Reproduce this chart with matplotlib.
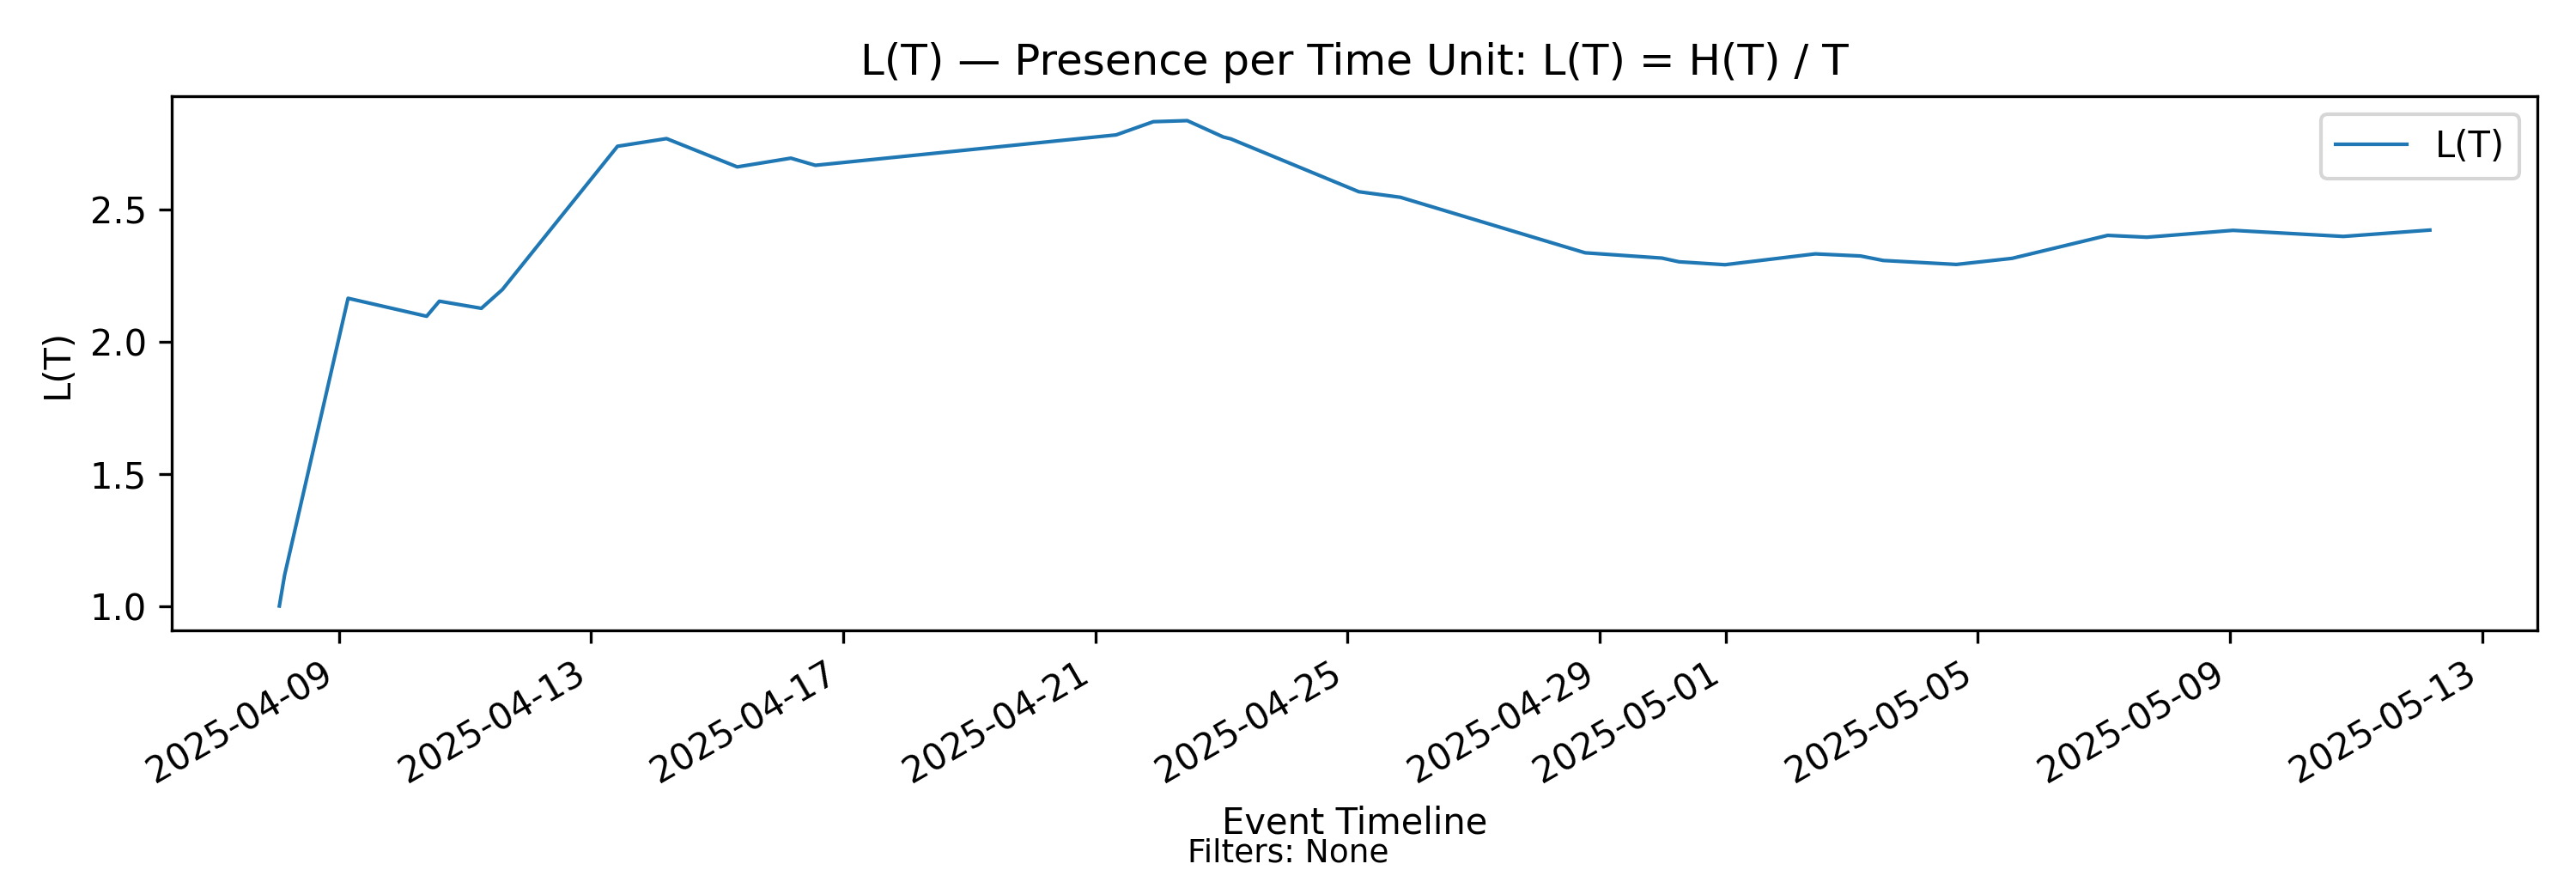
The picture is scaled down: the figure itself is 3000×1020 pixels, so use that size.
import matplotlib
matplotlib.use("Agg")
import matplotlib.pyplot as plt
import pandas as pd

# L(T), timestamps to roughly the nearest few minutes
timestamps = [
    "2025-04-08 01:20", "2025-04-08 03:20", "2025-04-09 03:30", "2025-04-10 09:25",
    "2025-04-10 14:15", "2025-04-11 06:15", "2025-04-11 14:15", "2025-04-13 10:05",
    "2025-04-14 04:45", "2025-04-15 07:40", "2025-04-16 04:05", "2025-04-16 13:25",
    "2025-04-21 07:55", "2025-04-21 22:05", "2025-04-22 11:00", "2025-04-23 00:45",
    "2025-04-23 03:35", "2025-04-25 04:20", "2025-04-25 20:10", "2025-04-28 18:30",
    "2025-04-29 23:45", "2025-04-30 06:15", "2025-04-30 23:45", "2025-05-02 10:05",
    "2025-05-03 03:20", "2025-05-03 12:00", "2025-05-04 15:50", "2025-05-05 13:00",
    "2025-05-07 01:25", "2025-05-07 16:20", "2025-05-09 01:10", "2025-05-10 19:10",
    "2025-05-12 04:05",
]
l_values = [
    1.000, 1.117, 2.164, 2.096,
    2.153, 2.126, 2.197, 2.739,
    2.768, 2.661, 2.694, 2.667,
    2.782, 2.832, 2.836, 2.774,
    2.767, 2.567, 2.546, 2.336,
    2.316, 2.302, 2.291, 2.332,
    2.324, 2.307, 2.292, 2.315,
    2.402, 2.395, 2.421, 2.398,
    2.422,
]

times = pd.to_datetime(timestamps)

fig, ax = plt.subplots(figsize=(10, 3.4), dpi=300)
ax.plot(times, l_values, label="L(T)", linewidth=1)
ax.set_title("L(T) — Presence per Time Unit: L(T) = H(T) / T")
ax.set_xlabel("Event Timeline")
ax.set_ylabel("L(T)")
ax.legend(loc="upper right")
fig.autofmt_xdate()
fig.text(0.5, 0.008, "Filters: None", ha="center", va="bottom", fontsize=9)
fig.subplots_adjust(left=0.0667, right=0.985, top=0.890, bottom=0.2805)
fig.savefig("out.png")
